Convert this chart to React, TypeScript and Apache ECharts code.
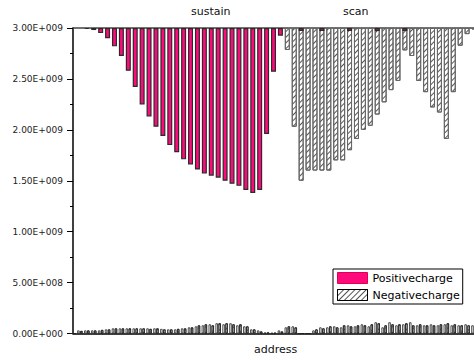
import React, { useEffect, useRef } from "react";
import * as echarts from "echarts";

// address categories (2 leading empty slots before the first hanging bar)
const categories = [
  "a0","a1","a2","a3","a4","a5","a6","a7","a8","a9",
  "a10","a11","a12","a13","a14","a15","a16","a17","a18","a19",
  "a20","a21","a22","a23","a24","a25","a26","a27","a28","a29",
  "a30","a31","a32","a33","a34","a35","a36","a37","a38","a39",
  "a40","a41","a42","a43","a44","a45","a46","a47","a48","a49",
  "a50","a51","a52","a53","a54","a55","a56","a57","a58",
];

// hanging bars (depth measured from the top, units of 1e8)
const positiveTop = [
  null, null,
  0.1, 0.2, 0.5, 1.0, 1.8, 2.75, 4.2, 5.8, 7.5, 8.7,
  9.7, 10.6, 11.5, 12.2, 12.9, 13.4, 13.9, 14.3, 14.5, 14.7,
  15.0, 15.3, 15.5, 15.9, 16.2, 15.9, 10.4, 4.3, 0.75,
  null, null, 0.3, null, null, 0.3, null, null, null, 0.3,
  null, null, null, 0.3, null, null, null, 0.3, null, null,
  null, null, null, null, null, null, null, null,
];
const negativeTop = [
  null, null,
  null, null, null, null, null, null, null, null, null, null,
  null, null, null, null, null, null, null, null, null, null,
  null, null, null, null, null, null, null, null, null,
  2.16, 9.7, 15.0, 14.0, 14.0, 14.0, 14.0, 13.0, 13.0, 12.0,
  10.9, 10.0, 9.6, 8.5, 7.3, 6.1, 5.2, 2.2, 2.75, 5.2,
  6.3, 7.8, 8.3, 10.9, 6.3, 1.74, 0.6, 0.15,
];

// small bars standing on the baseline (units of 1e7)
const positiveBase = [
  0, 3, 3, 3, 3, 4, 5, 5, 5, 5, 5, 5, 5, 4.5, 4, 4, 5, 6, 7, 8,
  9, 10, 9, 10, 8, 7, 4, 3, 1, 0.5, 3, 6, 7, 0, 0, 3, 6, 6, 7, 6,
  8, 7, 9, 7, 11, 6, 11, 8, 9, 11, 8, 8, 9, 8, 9, 8, 8, 9, 8,
];
const negativeBase = [
  0, 2.5, 3, 3, 3.5, 4, 5, 5, 5, 5, 5, 4.5, 5, 4, 4, 4.5, 5, 6, 8, 9,
  8, 10, 10, 9, 9, 7, 4, 2, 1, 0.5, 2, 7, 6, 0, 0, 4, 5, 7, 6, 8,
  7, 8, 8, 9, 10, 8, 9, 9, 10, 8, 9, 8, 8, 9, 10, 9, 8, 8, 9,
];

const yTickLabels = [
  "0.00E+000", "5.00E+008", "1.00E+009", "1.50E+009",
  "2.00E+009", "2.50E+009", "3.00E+009",
];

const FONT = "DejaVu Sans";
const PINK = "#ff0a7d";

const scale = (arr: (number | null)[], unit: number) =>
  arr.map((v) => (v == null ? null : v * unit));

const hatch = {
  symbol: "rect",
  symbolSize: 1,
  dashArrayX: [1, 0],
  dashArrayY: [1, 3],
  rotation: -Math.PI / 4,
  color: "#555",
};

export default function App() {
  const ref = useRef<HTMLDivElement>(null);
  useEffect(() => {
    if (!ref.current) return;
    const chart = echarts.init(ref.current, null, { renderer: "svg" });
    chart.setOption({
      animation: false,
      backgroundColor: "#fff",
      textStyle: { fontFamily: FONT },
      grid: { left: 73, right: 0, top: 28, bottom: 26.5 },
      legend: {
        data: [
          { name: "Positivecharge", itemStyle: { color: PINK, borderColor: "#e00050", borderWidth: 1, decal: "none" } },
          { name: "Negativecharge", itemStyle: { color: "#fff", borderColor: "#000", borderWidth: 1 } },
        ],
        orient: "vertical",
        left: 333,
        top: 269,
        icon: "rect",
        itemWidth: 30,
        itemHeight: 11,
        itemGap: 5,
        padding: [3, 3, 3, 4],
        borderColor: "#000",
        borderWidth: 1,
        backgroundColor: "#fff",
        selectedMode: false,
        textStyle: { fontSize: 11, fontFamily: FONT, color: "#000" },
      },
      xAxis: [
        {
          type: "category",
          data: categories,
          boundaryGap: false,
          position: "bottom",
          axisLine: { lineStyle: { color: "#000", width: 1.5 } },
          axisTick: { show: false },
          axisLabel: { show: false },
          splitLine: { show: false },
        },
        {
          type: "category",
          data: categories,
          boundaryGap: false,
          position: "top",
          axisLine: { lineStyle: { color: "#444", width: 1.5 } },
          axisTick: { show: false },
          axisLabel: { show: false },
          splitLine: { show: false },
        },
      ],
      yAxis: [
        {
          type: "value",
          min: 0,
          max: 3e9,
          interval: 5e8,
          axisLine: { show: true, lineStyle: { color: "#000", width: 1.5 } },
          axisTick: { show: true, length: 6, lineStyle: { color: "#000" } },
          minorTick: { show: true, splitNumber: 2, length: 3, lineStyle: { color: "#000" } },
          splitLine: { show: false },
          axisLabel: {
            formatter: (v: number) => yTickLabels[Math.round(v / 5e8)],
            fontSize: 9,
            fontFamily: FONT,
            color: "#222",
            margin: 10,
          },
        },
        { type: "value", min: 0, max: 3e9, inverse: true, show: false },
      ],
      series: [
        {
          name: "Negativecharge",
          type: "bar",
          xAxisIndex: 1,
          yAxisIndex: 1,
          barWidth: 5,
          barGap: "-100%",
          data: scale(negativeTop, 1e8),
          itemStyle: { color: "#fff", borderColor: "#666", borderWidth: 1, decal: hatch },
        },
        {
          name: "Positivecharge",
          type: "bar",
          xAxisIndex: 1,
          yAxisIndex: 1,
          barWidth: 5,
          barGap: "-100%",
          data: scale(positiveTop, 1e8),
          itemStyle: { color: PINK, borderColor: "#2a2a2a", borderWidth: 1.2 },
        },
        {
          name: "Positive base",
          type: "bar",
          xAxisIndex: 0,
          yAxisIndex: 0,
          barWidth: 2.4,
          barGap: "25%",
          data: scale(positiveBase, 1e7),
          itemStyle: { color: "#fff", borderColor: "#222", borderWidth: 0.8 },
        },
        {
          name: "Negative base",
          type: "bar",
          xAxisIndex: 0,
          yAxisIndex: 0,
          barWidth: 2.4,
          barGap: "25%",
          data: scale(negativeBase, 1e7),
          itemStyle: { color: "#fff", borderColor: "#222", borderWidth: 0.8, decal: hatch },
        },
      ],
      graphic: [
        {
          type: "text",
          left: 191,
          top: 6,
          style: { text: "sustain", fontSize: 11, fontFamily: FONT, fill: "#111" },
        },
        {
          type: "text",
          left: 343,
          top: 6,
          style: { text: "scan", fontSize: 11, fontFamily: FONT, fill: "#111" },
        },
        {
          type: "text",
          left: 254,
          top: 344,
          style: { text: "address", fontSize: 11, fontFamily: FONT, fill: "#111" },
        },
      ],
    });
    return () => chart.dispose();
  }, []);
  return (
    <div
      ref={ref}
      style={{ position: "absolute", left: 0, top: 0, width: 474, height: 360, background: "#fff" }}
    />
  );
}
